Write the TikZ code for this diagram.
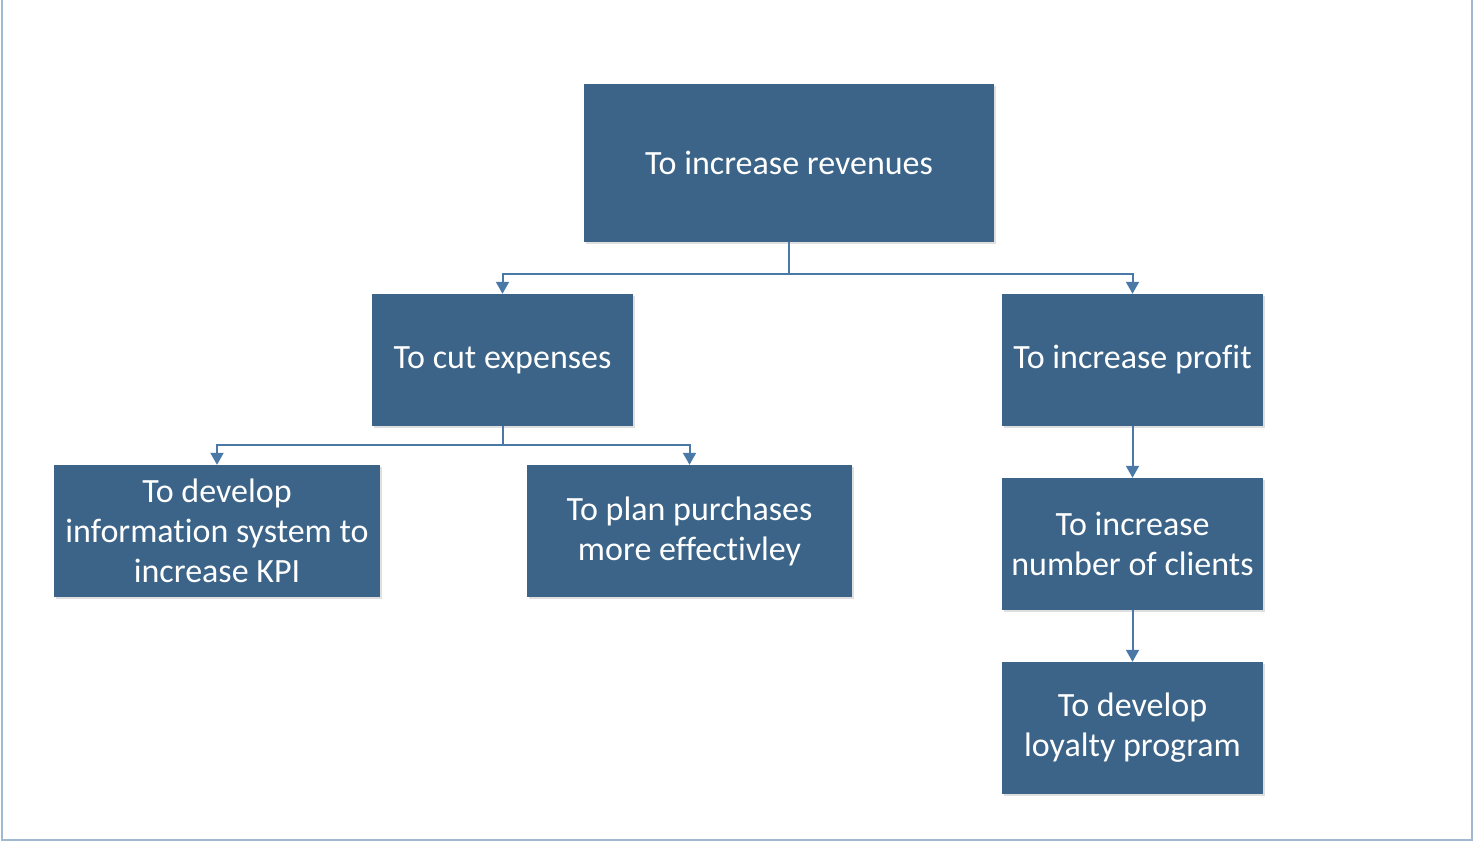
\documentclass[tikz,border=0pt]{standalone}
\usepackage{fontspec}
\setmainfont{Carlito}[Ligatures={NoCommon}]
\usetikzlibrary{arrows.meta,shadows}
\definecolor{boxblue}{RGB}{59,100,136}
\definecolor{linkblue}{RGB}{74,121,168}
\definecolor{framec}{RGB}{160,185,210}
\tikzset{
  goal/.style={fill=boxblue, draw=none, text=white, align=center,
    font=\fontsize{34}{40}\selectfont, inner sep=0pt,
    drop shadow={opacity=0.25, shadow xshift=1.5pt, shadow yshift=-2pt}},
  link/.style={draw=linkblue, line width=2pt, -{Triangle[length=12pt,width=13pt]}},
  plain/.style={draw=linkblue, line width=2pt}
}
\begin{document}
\begin{tikzpicture}[x=1pt,y=-1pt]
\useasboundingbox (0,0) rectangle (1474,842);
\draw[framec, line width=1.5pt] (2,0) -- (2,840) -- (1472,840) -- (1472,0);
\node[goal, minimum width=410pt, minimum height=158pt] (rev) at (789,163) {To increase revenues};
\node[goal, minimum width=261pt, minimum height=132pt] (cut) at (502.5,360) {To cut expenses};
\node[goal, minimum width=261pt, minimum height=132pt] (profit) at (1132.5,360) {To increase profit};
\node[goal, minimum width=326pt, minimum height=132pt] (info) at (217,531) {To develop\\information system to\\increase KPI};
\node[goal, minimum width=325pt, minimum height=132pt] (plan) at (689.5,531) {To plan purchases\\more effectivley};
\node[goal, minimum width=261pt, minimum height=132pt] (clients) at (1132.5,544) {To increase\\number of clients};
\node[goal, minimum width=261pt, minimum height=132pt] (loyal) at (1132.5,728) {To develop\\loyalty program};
\coordinate (j1) at (789,274);
\coordinate (j2) at (502.5,445);
\draw[plain] (rev.south) -- (j1);
\draw[link] (j1) -| (cut.north);
\draw[link] (j1) -| (profit.north);
\draw[plain] (cut.south) -- (j2);
\draw[link] (j2) -| (info.north);
\draw[link] (j2) -| (plan.north);
\draw[link] (profit) -- (clients);
\draw[link] (clients) -- (loyal);
\end{tikzpicture}
\end{document}
